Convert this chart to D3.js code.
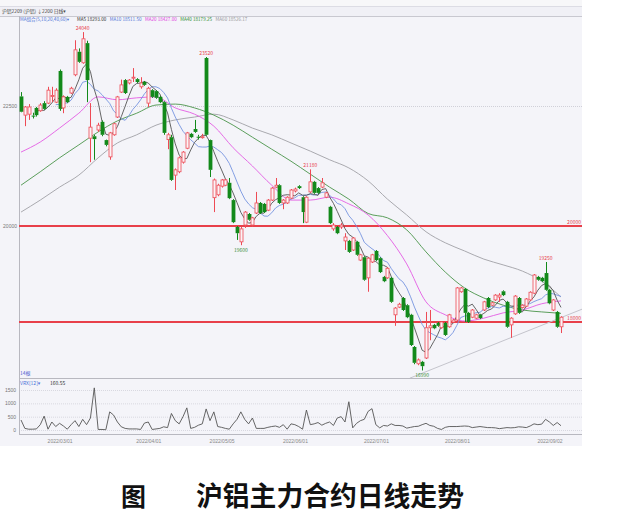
<!DOCTYPE html>
<html><head><meta charset="utf-8">
<script src="https://cdn.jsdelivr.net/npm/d3@7"></script>
<style>
body{margin:0;background:#fff;}
svg{display:block;font-family:"Noto Sans CJK SC","DejaVu Sans",sans-serif;}
</style>
</head><body>
<svg id="c" width="624" height="529"></svg>
<script>
// ---- data ----
const opens = [22700,22310,22330,22300,22460,22400,22560,22560,22700,22580,23230,22460,22690,22770,23150,23630,23400,23810,21830,21870,
22000,22170,21790,21440,21900,22270,22790,23040,22980,23080,23060,22900,23000,22560,22830,22810,22690,22580,21800,21850,
21060,21130,21330,21620,21920,22020,21860,21850,23500,21790,20590,20650,20830,20850,20900,20540,19980,19670,20020,20250,
20020,20270,20480,20460,20330,20540,20810,20850,20480,20480,20580,20730,20830,20600,20080,20710,20920,20790,20810,20600,
20400,19940,19980,19980,19690,19690,19500,19670,19290,19350,18920,19250,19480,19330,18940,18920,18920,18150,18310,18500,
18350,18150,17480,17130,17170,17250,17880,17940,17980,17880,17980,17900,18000,18040,18630,18690,18190,18100,18080,18150,
18250,18500,18350,18460,18520,18640,18420,17940,18170,18500,18300,18330,18460,18600,18940,18920,19020,18670,18250,18210,17900];
const highs = [22790,22500,22540,22360,22480,22560,22600,22900,22900,22870,23260,22720,22710,22900,23870,23700,24040,23860,22560,21900,
22150,22200,21800,21960,22150,22710,23050,23060,23060,23290,23080,23100,23020,22900,22850,22830,22710,22600,21940,21900,
21200,21450,21560,21960,21940,22210,21900,21920,23520,21800,20990,20880,20980,20980,21000,20560,20000,19980,20310,20270,
20190,20710,20500,20480,20560,20810,21000,20870,20560,20620,20770,20800,20850,20620,20620,21180,20940,20810,21000,20710,
20420,20060,20000,20060,19850,19710,19770,19690,19420,19370,19350,19420,19500,19350,18960,19140,18940,18310,18400,18520,
18370,18170,17500,17240,17190,18210,18250,17960,18000,18020,18000,18170,18060,18730,18730,18710,18210,18270,18170,18170,
18440,18520,18420,18580,18600,18660,18440,18100,18560,18520,18370,18500,18640,19000,18960,18940,19250,18690,18480,18230,18120];
const lows = [22370,22080,22210,22240,22280,22380,22420,22540,22580,22560,22400,22350,22560,22750,23120,23400,23380,22580,21330,21380,
21960,21870,21660,21380,21880,22250,22770,22750,22950,23000,22980,22860,22920,22480,22670,22650,22560,21900,21600,20940,
20750,21100,21300,21600,21830,21940,21800,21820,21880,21020,20290,20620,20800,20830,20560,20060,19710,19600,19960,20110,
19980,20250,20250,20270,20310,20520,20790,20460,20350,20460,20560,20700,20770,20060,20060,20690,20670,20670,20790,20580,
20040,19900,19830,19940,19500,19440,19480,19380,19270,18860,18630,19230,19270,19020,18830,18900,18400,17920,18290,18230,
18080,17500,17120,17100,16990,17230,17620,17850,17900,17860,17710,17880,17980,18020,18610,18000,17980,18080,18060,18060,
18230,18290,18330,18440,18420,18540,17880,17670,18150,18170,18280,18310,18440,18580,18860,18830,18650,18370,18230,17880,17770];
const closes = [22380,22480,22480,22290,22310,22520,22440,22830,22720,22830,22440,22690,22580,22870,23670,23420,23900,23040,22060,21810,
22100,21900,21690,21940,22130,22690,22940,22770,23040,23100,23000,22980,22940,22870,22690,22670,22580,21940,21900,20960,
21170,21420,21540,21940,21850,21960,21850,21860,21900,21170,20960,20850,20960,20960,20580,20080,19850,19940,20290,20130,
20170,20480,20270,20290,20540,20790,20850,20480,20540,20600,20750,20770,20790,20290,20600,20920,20690,20690,20900,20690,
20060,20020,19850,20020,19770,19460,19750,19400,19400,18880,19330,19400,19290,19040,18850,19120,18420,18290,18370,18250,
18100,17520,17150,17210,17080,17880,17920,17870,17920,18000,17730,18150,18040,18710,18710,18190,18000,18250,18150,18080,
18420,18310,18400,18560,18560,18560,17900,18080,18540,18190,18350,18480,18620,18980,18880,18850,18670,18390,18460,17900,18100];

// moving averages 20/40/60 read every 5 bars (bar index 0,5,...,140)
const maStep = 5;
const ma20Read = [21540,21750,22040,22350,22690,22630,22670,22690,22460,22330,22080,21630,21250,20850,20540,20540,20600,20460,20230,19800,19210,18420,18150,18020,18080,18190,18250,18380,18440];
const ma40Read = [20850,21130,21420,21690,21960,22190,22350,22520,22540,22460,22310,22100,21850,21600,21350,21080,20810,20560,20260,20170,19920,19460,19040,18710,18500,18350,18250,18210,18180];
const ma60Read = [20290,20540,20810,21060,21420,21730,21900,22100,22210,22270,22330,22210,22040,21900,21730,21560,21380,21210,20940,20560,20230,19880,19650,19480,19310,19190,19060,18850,18520];

// lower indicator VRX(12)
const vrx = [375,60,30,30,40,200,520,30,300,130,250,150,30,200,350,130,400,200,450,1580,
20,20,10,680,560,300,120,60,40,40,40,20,260,300,20,40,60,120,90,620,
350,230,500,830,60,100,180,230,790,350,680,130,100,60,30,230,400,680,400,230,
450,60,60,60,100,130,150,100,200,30,230,200,130,30,750,200,230,280,180,250,
300,170,450,500,300,1060,80,250,350,400,700,800,200,80,170,150,230,170,170,150,
70,100,130,140,200,250,170,140,60,20,100,130,130,130,140,150,140,90,110,130,
110,90,90,80,50,70,90,80,90,120,110,90,150,230,200,220,400,300,170,280,160.55];

const priceTicks = [20000, 22500];
const indTicks = [0, 500, 1000, 1500];
const dateIdx = [13, 36, 55, 74, 95, 116, 140];
const dateLabels = ["2022/03/01","2022/04/01","2022/05/05","2022/06/01","2022/07/01","2022/08/01","2022/09/02"];
const hLines = [20000, 18000];
const hLineLabels = ["20000", "18000"];
const highMarks = [{i:16,v:24040,t:"24040"},{i:48,v:23520,t:"23520"},{i:75,v:21180,t:"21180"},{i:136,v:19250,t:"19250"}];
const lowMarks = [{i:57,v:19600,t:"19600"},{i:104,v:16990,t:"16990"}];
const trend = [{i:100.8,v:16830},{i:148.8,v:18375}];
const legendItems = [
  {t:"MA5 18293.00", c:"#333333"},
  {t:"MA10 18511.50", c:"#4f74d8"},
  {t:"MA20 18427.00", c:"#e040e0"},
  {t:"MA40 18179.25", c:"#2f8f2f"},
  {t:"MA60 18526.17", c:"#999999"}
];

// ---- drawing ----
const svg = d3.select("#c");
const BG = "#f4f4f9";
const L = 19, R = 582, TOP = 16, MAINB = 378, INDB = 434;
const RED = "#ee4a55", GREEN = "#12891a";

svg.append("rect").attr("x",0).attr("y",0).attr("width",R).attr("height",6).attr("fill","#f7f7f9");
svg.append("rect").attr("x",0).attr("y",6).attr("width",R).attr("height",440).attr("fill",BG);
svg.append("rect").attr("x",0).attr("y",6).attr("width",R).attr("height",10).attr("fill","#f0f0f6");
svg.append("line").attr("x1",0).attr("x2",R).attr("y1",6.5).attr("y2",6.5).attr("stroke","#dcdce4");
svg.append("line").attr("x1",0).attr("x2",R).attr("y1",16.5).attr("y2",16.5).attr("stroke","#c8c8d0");

const x = d3.scaleLinear().domain([0,140]).range([21,561]);
const y = d3.scaleLinear().domain([20000,22500]).range([226,106]);
const yi = d3.scaleLinear().domain([0,1500]).range([430,390]);

svg.append("clipPath").attr("id","mc").append("rect")
  .attr("x",L).attr("y",TOP).attr("width",R-L).attr("height",MAINB-TOP);

// grid
svg.append("g").selectAll("line").data(priceTicks).join("line")
  .attr("x1",L).attr("x2",R).attr("y1",d=>y(d)+0.5).attr("y2",d=>y(d)+0.5)
  .attr("stroke","#d0d0d8").attr("stroke-dasharray","1,1");
svg.append("g").selectAll("line").data(indTicks).join("line")
  .attr("x1",L).attr("x2",R).attr("y1",d=>yi(d)+0.5).attr("y2",d=>yi(d)+0.5)
  .attr("stroke","#d8d8e0").attr("stroke-dasharray","1,1");

// panel borders
svg.append("line").attr("x1",L+0.5).attr("x2",L+0.5).attr("y1",TOP).attr("y2",INDB).attr("stroke","#b8b8c0");
svg.append("line").attr("x1",L).attr("x2",R).attr("y1",MAINB+0.5).attr("y2",MAINB+0.5).attr("stroke","#b8b8c0");
svg.append("line").attr("x1",L).attr("x2",R).attr("y1",INDB+0.5).attr("y2",INDB+0.5).attr("stroke","#b8b8c0");

// axes
const ax = svg.append("g").attr("transform",`translate(${L},0)`)
  .call(d3.axisLeft(y).tickValues(priceTicks).tickSize(0).tickPadding(2).tickFormat(d3.format("d")));
ax.select(".domain").remove();
ax.selectAll("text").attr("font-size",5).attr("fill","#777");
const ai = svg.append("g").attr("transform",`translate(${L},0)`)
  .call(d3.axisLeft(yi).tickValues(indTicks).tickSize(0).tickPadding(3).tickFormat(d3.format("d")));
ai.select(".domain").remove();
ai.selectAll("text").attr("font-size",5).attr("fill","#777");
const ad = svg.append("g").attr("transform",`translate(0,${INDB})`)
  .call(d3.axisBottom(x).tickValues(dateIdx).tickSize(0).tickPadding(5).tickFormat((d,i)=>dateLabels[i]));
ad.select(".domain").remove();
ad.selectAll("text").attr("font-size",5).attr("fill","#888").attr("text-anchor","end").attr("dx","1");

const g = svg.append("g").attr("clip-path","url(#mc)");

// horizontal red lines
g.selectAll("line.h").data(hLines).join("line").attr("class","h")
  .attr("x1",L).attr("x2",R).attr("y1",d=>y(d)).attr("y2",d=>y(d))
  .attr("stroke","#e8404a").attr("stroke-width",1.8);
svg.selectAll("text.hl").data(hLines).join("text").attr("class","hl")
  .attr("x",R-1).attr("y",d=>y(d)-2).attr("text-anchor","end")
  .attr("font-size",5).attr("fill","#e8404a").text((d,i)=>hLineLabels[i]);

// trend line
g.append("line").attr("x1",x(trend[0].i)).attr("y1",y(trend[0].v))
  .attr("x2",x(trend[1].i)).attr("y2",y(trend[1].v))
  .attr("stroke","#c4c4cc").attr("stroke-width",1);

// moving averages
function maComputed(n){
  const out=[];
  for(let i=n-1;i<closes.length;i++){
    out.push({i, v:d3.mean(closes.slice(i-n+1,i+1))});
  }
  return out;
}
const lineGen = d3.line().x(d=>x(d.i)).y(d=>y(d.v));
const smooth = d3.line().x(d=>x(d.i)).y(d=>y(d.v)).curve(d3.curveMonotoneX);
const readSeries = arr => arr.map((v,k)=>({i:k*maStep, v}));
g.append("path").datum(readSeries(ma60Read)).attr("d",smooth).attr("fill","none").attr("stroke","#a0a0a6").attr("stroke-width",0.9);
g.append("path").datum(readSeries(ma40Read)).attr("d",smooth).attr("fill","none").attr("stroke","#4a944a").attr("stroke-width",0.9);
g.append("path").datum(readSeries(ma20Read)).attr("d",smooth).attr("fill","none").attr("stroke","#e35be3").attr("stroke-width",0.9);
g.append("path").datum(maComputed(10)).attr("d",lineGen).attr("fill","none").attr("stroke","#7694e0").attr("stroke-width",0.9);
g.append("path").datum(maComputed(5)).attr("d",lineGen).attr("fill","none").attr("stroke","#555").attr("stroke-width",0.9);

// candles
const bars = d3.range(opens.length).map(i=>({i,o:opens[i],h:highs[i],l:lows[i],c:closes[i]}));
const cg = g.append("g");
const cw = 3;
bars.forEach(b=>{
  const up = b.c >= b.o;
  const col = up ? RED : GREEN;
  const top = y(Math.max(b.o,b.c)), bot = y(Math.min(b.o,b.c));
  const cx = Math.round(x(b.i)) + 0.5;
  cg.append("line").attr("x1",cx).attr("x2",cx).attr("y1",y(b.h)).attr("y2",top).attr("stroke",col).attr("stroke-width",1);
  cg.append("line").attr("x1",cx).attr("x2",cx).attr("y1",bot).attr("y2",y(b.l)).attr("stroke",col).attr("stroke-width",1);
  const hgt = Math.max(1, bot-top);
  if(up){
    cg.append("rect").attr("x",cx-cw/2).attr("y",top).attr("width",cw).attr("height",hgt)
      .attr("fill","#fbf3f6").attr("stroke",col).attr("stroke-width",0.8);
  } else {
    cg.append("rect").attr("x",cx-cw/2-0.4).attr("y",top).attr("width",cw+0.8).attr("height",hgt)
      .attr("fill",col);
  }
});

// high / low marks
highMarks.forEach(m=>{
  svg.append("text").attr("x",x(m.i)).attr("y",y(m.v)-2.5).attr("text-anchor","middle")
    .attr("font-size",5).attr("fill","#e8404a").text(m.t);
});
lowMarks.forEach(m=>{
  svg.append("text").attr("x",x(m.i)).attr("y",y(m.v)+7).attr("text-anchor","middle")
    .attr("font-size",5).attr("fill","#3a8f3a").text(m.t);
});

// indicator line
svg.append("path").datum(vrx.map((v,i)=>({i,v})))
  .attr("d",d3.line().x(d=>x(d.i)).y(d=>yi(d.v)))
  .attr("fill","none").attr("stroke","#555").attr("stroke-width",0.9);

// texts
svg.append("text").attr("x",2).attr("y",13).attr("font-size",4.8).attr("fill","#444")
  .text("沪铝2209 (沪铝) ↓2200  日线▾");
svg.append("text").attr("x",20).attr("y",21).attr("font-size",4.6).attr("fill","#4f74d8").text("MA组合(5,10,20,40,60)▾");
let lx = 77;
legendItems.forEach(it=>{
  const t = svg.append("text").attr("x",lx).attr("y",21).attr("font-size",4.6).attr("fill",it.c).text(it.t);
  lx += t.node().getComputedTextLength() + 3.5;
});
svg.append("text").attr("x",20).attr("y",375).attr("font-size",5).attr("fill","#4f5fd0").text("14根");
svg.append("text").attr("x",20).attr("y",385).attr("font-size",5).attr("fill","#4f74d8").text("VRX[12]▾");
svg.append("text").attr("x",50).attr("y",385).attr("font-size",5).attr("fill","#333").text("160.55");

// caption
svg.append("text").attr("x",121).attr("y",506).attr("font-size",25).attr("font-weight",700)
  .attr("fill","#111").text("图");
svg.append("text").attr("x",196).attr("y",506).attr("font-size",26.8).attr("font-weight",700)
  .attr("fill","#111").text("沪铝主力合约日线走势");
</script>
</body></html>
